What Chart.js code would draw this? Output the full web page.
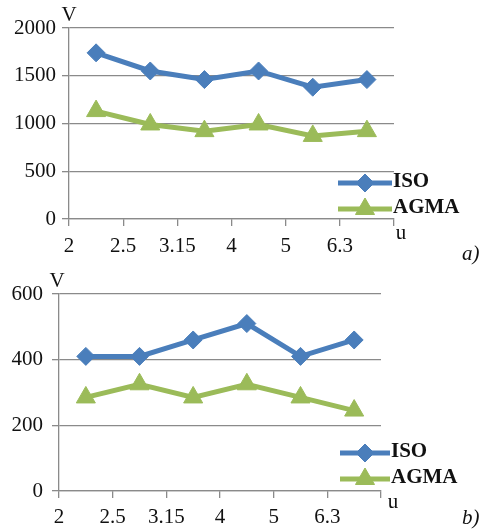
<!DOCTYPE html>
<html>
<head>
<meta charset="utf-8">
<script src="https://cdn.jsdelivr.net/npm/chart.js@4/dist/chart.umd.min.js"></script>
<style>
  html, body { margin: 0; padding: 0; background: #fff; }
  body { width: 488px; height: 530px; position: relative; overflow: hidden; }
  canvas { position: absolute; left: 0; }
</style>
</head>
<body>
<canvas id="ca" width="488" height="265" style="top:0"></canvas>
<canvas id="cb" width="488" height="265" style="top:265px"></canvas>
<script>
// ---- data ----
const uLabels = ['2', '2.5', '3.15', '4', '5', '6.3'];
const seriesNames = ['ISO', 'AGMA'];
const isoA  = [1740, 1550, 1460, 1550, 1380, 1460];
const agmaA = [1130, 990, 920, 990, 870, 920];
const isoB  = [410, 410, 460, 510, 410, 460];
const agmaB = [285, 325, 285, 325, 285, 245];
const yTicksA = { max: 2000, step: 500 };
const yTicksB = { max: 600, step: 200 };

const FONT = '"Liberation Serif", "Times New Roman", serif';
const FS = 21;
const BLUE = '#4A7EBB';
const GREEN = '#9BBB59';
const GRID = '#8a8a8a';

function pts(arr) { return arr.map((v, i) => ({ x: i + 0.5, y: v })); }

function drawMarker(ctx, style, x, y, r, color) {
  ctx.save();
  ctx.fillStyle = color; ctx.strokeStyle = color; ctx.lineWidth = 1;
  ctx.beginPath();
  if (style === 'rectRot') {
    ctx.moveTo(x, y - r); ctx.lineTo(x + r, y); ctx.lineTo(x, y + r); ctx.lineTo(x - r, y);
  } else {
    const w = r * Math.sin(Math.PI * 2 / 3);
    ctx.moveTo(x, y - r); ctx.lineTo(x + w, y + r / 2); ctx.lineTo(x - w, y + r / 2);
  }
  ctx.closePath(); ctx.fill(); ctx.stroke();
  ctx.restore();
}

function makeChart(id, cfg) {
  const annot = {
    id: 'annot',
    afterDraw(chart) {
      const ctx = chart.ctx, a = chart.chartArea;
      ctx.save();
      ctx.fillStyle = '#111';
      ctx.textBaseline = 'middle';
      ctx.textAlign = 'center';
      ctx.font = FS + 'px ' + FONT;
      ctx.fillText('V', a.left + cfg.vDx, a.top - 13);
      ctx.fillText('u', a.right + cfg.uDx, a.bottom + cfg.uDy);
      ctx.font = 'italic ' + FS + 'px ' + FONT;
      ctx.textAlign = 'left';
      ctx.fillText(cfg.tag, 462, cfg.tagY);
      // legend
      const L = cfg.legend;
      chart.data.datasets.forEach((ds, i) => {
        const y = L.y[i];
        ctx.strokeStyle = ds.borderColor; ctx.lineWidth = 5;
        ctx.beginPath(); ctx.moveTo(L.x0, y); ctx.lineTo(L.x1, y); ctx.stroke();
        drawMarker(ctx, ds.pointStyle, (L.x0 + L.x1) / 2, y, ds.pointRadius, ds.borderColor);
        ctx.fillStyle = '#111';
        ctx.font = 'bold ' + FS + 'px ' + FONT;
        ctx.textAlign = 'left';
        ctx.fillText(ds.label, L.x1 + 1, y - 1);
      });
      ctx.restore();
    }
  };
  return new Chart(document.getElementById(id), {
    type: 'line',
    data: {
      datasets: [
        { label: seriesNames[0], data: pts(cfg.iso), borderColor: BLUE, backgroundColor: BLUE,
          borderWidth: 5, pointStyle: 'rectRot', pointRadius: 9, pointHoverRadius: 9, pointBorderWidth: 1, tension: 0 },
        { label: seriesNames[1], data: pts(cfg.agma), borderColor: GREEN, backgroundColor: GREEN,
          borderWidth: 5, pointStyle: 'triangle', pointRadius: 11, pointHoverRadius: 11, pointBorderWidth: 1, tension: 0 }
      ]
    },
    options: {
      responsive: false, animation: false, devicePixelRatio: 1,
      layout: { padding: { left: 0, top: cfg.top, right: 488 - cfg.right, bottom: 0 } },
      plugins: { legend: { display: false }, tooltip: { enabled: false } },
      scales: {
        x: {
          type: 'linear', min: 0, max: uLabels.length,
          afterFit(s) { s.height = 265 - cfg.bottom; },
          ticks: { stepSize: 1, autoSkip: false, maxRotation: 0, padding: cfg.xpad, color: '#111',
                   font: { family: FONT, size: FS },
                   callback: (v) => (uLabels[v] !== undefined ? uLabels[v] : '') },
          grid: { drawOnChartArea: false, drawTicks: true, tickLength: 7, color: GRID, lineWidth: 1.3 },
          border: { color: GRID, width: 1.3 }
        },
        y: {
          min: 0, max: cfg.yt.max,
          afterFit(s) { s.width = cfg.left; },
          ticks: { stepSize: cfg.yt.step, padding: cfg.ypad, color: '#111', font: { family: FONT, size: FS },
                   callback: (v) => String(v) },
          grid: { color: GRID, tickLength: 7, lineWidth: 1.3 },
          border: { color: GRID, width: 1.3 }
        }
      }
    },
    plugins: [annot]
  });
}

makeChart('ca', {
  iso: isoA, agma: agmaA, yt: yTicksA,
  left: 69, right: 394, top: 28, bottom: 219, ypad: 6, xpad: 8,
  vDx: 0, uDx: 7, uDy: 14, tag: 'a)', tagY: 254,
  legend: { x0: 338, x1: 392, y: [183, 209] }
});
makeChart('cb', {
  iso: isoB, agma: agmaB, yt: yTicksB,
  left: 59, right: 381, top: 29, bottom: 226, ypad: 9, xpad: 7,
  vDx: -2, uDx: 12, uDy: 11, tag: 'b)', tagY: 253,
  legend: { x0: 340, x1: 390, y: [188, 214] }
});
</script>
</body>
</html>
